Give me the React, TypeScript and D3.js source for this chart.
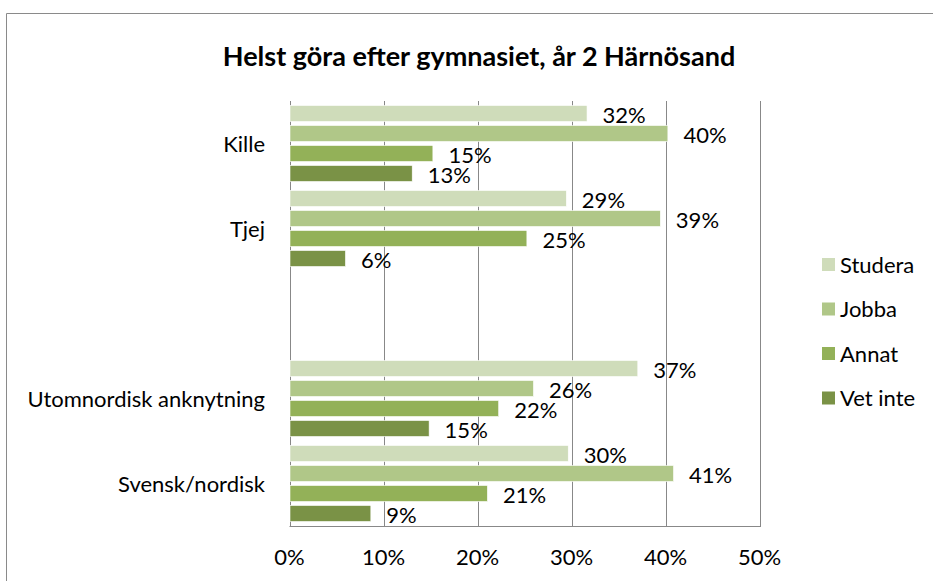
import React, { useEffect, useRef } from 'react';
import * as d3 from 'd3';

// values in percent
const categories = ['Kille', 'Tjej', '', 'Utomnordisk anknytning', 'Svensk/nordisk'];
const seriesNames = ['Studera', 'Jobba', 'Annat', 'Vet inte'];
const studera = [31.6, 29.4, null, 37.0, 29.6];
const jobba = [40.2, 39.4, null, 25.9, 40.8];
const annat = [15.2, 25.2, null, 22.2, 21.0];
const vetInte = [13.0, 5.9, null, 14.8, 8.6];
const xTicks = [0, 10, 20, 30, 40, 50];
const colors = ['#cfdcba', '#b0c788', '#93b158', '#7a9246'];

const W = 933;
const H = 581;
const FONT = 'Lato, Calibri, sans-serif';

const App = () => {
  const ref = useRef<SVGSVGElement | null>(null);

  useEffect(() => {
    if (!ref.current) return;
    const svg = d3.select(ref.current);
    svg.selectAll('*').remove();

    const series = [studera, jobba, annat, vetInte];
    const left = 289.5, right = 759.5, top = 101, bottom = 526;

    // outer chart frame (cut off on right and bottom)
    svg.append('path')
      .attr('d', `M6.5,${H + 5}V13.5H${W + 5}`)
      .attr('fill', 'none')
      .attr('stroke', '#8a8a8a')
      .attr('stroke-width', 1);

    svg.append('text')
      .attr('x', 479)
      .attr('y', 55)
      .attr('text-anchor', 'middle')
      .attr('dominant-baseline', 'central')
      .style('font-family', FONT)
      .style('font-weight', 'bold')
      .style('font-size', '27px')
      .text('Helst göra efter gymnasiet, år 2 Härnösand');

    const x = d3.scaleLinear().domain([0, 50]).range([left, right]);
    const y = d3.scaleBand<number>()
      .domain(categories.map((_, i) => i))
      .range([top, bottom]);
    const inner = d3.scaleBand<number>()
      .domain(seriesNames.map((_, i) => i))
      .range([4.5, y.bandwidth() - 4.5])
      .paddingInner(0.2);

    // gridlines
    svg.append('g')
      .selectAll('line')
      .data(xTicks)
      .enter()
      .append('line')
      .attr('x1', d => Math.round(x(d)) + 0.5)
      .attr('x2', d => Math.round(x(d)) + 0.5)
      .attr('y1', top)
      .attr('y2', bottom)
      .attr('stroke', '#888')
      .attr('stroke-width', 1);

    svg.append('line')
      .attr('x1', x(0))
      .attr('x2', Math.round(x(50)) + 1)
      .attr('y1', bottom + 0.5)
      .attr('y2', bottom + 0.5)
      .attr('stroke', '#888');

    // bars
    series.forEach((vals, s) => {
      const g = svg.append('g');
      const pts = vals
        .map((v, i) => ({ v, i }))
        .filter(d => d.v !== null) as { v: number; i: number }[];

      g.selectAll('rect')
        .data(pts)
        .enter()
        .append('rect')
        .attr('x', x(0) + 0.5)
        .attr('y', d => (y(d.i) as number) + (inner(s) as number))
        .attr('width', d => x(d.v) - x(0))
        .attr('height', inner.bandwidth())
        .attr('fill', colors[s])
        .attr('stroke', '#fff')
        .attr('stroke-width', 0.6);

      g.selectAll('text')
        .data(pts)
        .enter()
        .append('text')
        .attr('x', d => x(d.v) + 16)
        .attr('y', d => (y(d.i) as number) + (inner(s) as number) + inner.bandwidth() / 2 + 1)
        .attr('dominant-baseline', 'central')
        .style('font-family', FONT)
        .style('font-size', '22px')
        .style('fill', '#000')
        .text(d => Math.round(d.v) + '%');
    });

    // category labels
    svg.append('g')
      .selectAll('text')
      .data(categories.map((c, i) => ({ c, i })))
      .enter()
      .append('text')
      .attr('x', 265)
      .attr('y', d => (y(d.i) as number) + y.bandwidth() / 2)
      .attr('text-anchor', 'end')
      .attr('dominant-baseline', 'central')
      .style('font-family', FONT)
      .style('font-size', '22px')
      .text(d => d.c);

    // x tick labels
    svg.append('g')
      .selectAll('text')
      .data(xTicks)
      .enter()
      .append('text')
      .attr('x', d => x(d))
      .attr('y', 556)
      .attr('text-anchor', 'middle')
      .attr('dominant-baseline', 'central')
      .style('font-family', FONT)
      .style('font-size', '22px')
      .text(d => d + '%');

    // legend
    const legend = svg.append('g').attr('transform', 'translate(822,0)');
    seriesNames.forEach((name, i) => {
      const cy = 264 + i * 44.5;
      legend.append('rect')
        .attr('x', 0)
        .attr('y', cy - 6)
        .attr('width', 13)
        .attr('height', 13)
        .attr('fill', colors[i]);
      legend.append('text')
        .attr('x', 18)
        .attr('y', cy)
        .attr('dominant-baseline', 'central')
        .style('font-family', FONT)
        .style('font-size', '22px')
        .text(name);
    });
  }, []);

  return (
    <svg
      ref={ref}
      width={W}
      height={H}
      style={{ position: 'absolute', left: 0, top: 0, background: '#fff' }}
    />
  );
};

export default App;
